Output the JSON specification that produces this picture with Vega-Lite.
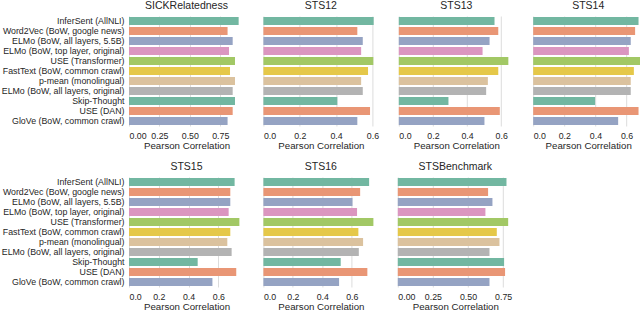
{
  "$schema": "https://vega.github.io/schema/vega-lite/v6.json",
  "background": "white",
  "padding": {"left": 1, "top": 0, "right": 0, "bottom": 0},
  "config": {
    "font": "Liberation Sans",
    "view": {"stroke": null},
    "title": {"fontSize": 10.5, "fontWeight": "normal", "color": "#262626", "offset": 5},
    "axis": {"labelColor": "#262626", "titleColor": "#262626", "labelFontSize": 8.8, "titleFontSize": 9.7, "titleFontWeight": "normal"},
    "concat": {"spacing": 19.4}
  },
  "data": {"values": [
    {"task": "SICKRelatedness", "model": "InferSent (AllNLI)", "r": 0.901},
    {"task": "SICKRelatedness", "model": "Word2Vec (BoW, google news)", "r": 0.81},
    {"task": "SICKRelatedness", "model": "ELMo (BoW, all layers, 5.5B)", "r": 0.852},
    {"task": "SICKRelatedness", "model": "ELMo (BoW, top layer, original)", "r": 0.822},
    {"task": "SICKRelatedness", "model": "USE (Transformer)", "r": 0.871},
    {"task": "SICKRelatedness", "model": "FastText (BoW, common crawl)", "r": 0.83},
    {"task": "SICKRelatedness", "model": "p-mean (monolingual)", "r": 0.871},
    {"task": "SICKRelatedness", "model": "ELMo (BoW, all layers, original)", "r": 0.852},
    {"task": "SICKRelatedness", "model": "Skip-Thought", "r": 0.871},
    {"task": "SICKRelatedness", "model": "USE (DAN)", "r": 0.852},
    {"task": "SICKRelatedness", "model": "GloVe (BoW, common crawl)", "r": 0.81},

    {"task": "STS12", "model": "InferSent (AllNLI)", "r": 0.607},
    {"task": "STS12", "model": "Word2Vec (BoW, google news)", "r": 0.517},
    {"task": "STS12", "model": "ELMo (BoW, all layers, 5.5B)", "r": 0.547},
    {"task": "STS12", "model": "ELMo (BoW, top layer, original)", "r": 0.538},
    {"task": "STS12", "model": "USE (Transformer)", "r": 0.605},
    {"task": "STS12", "model": "FastText (BoW, common crawl)", "r": 0.576},
    {"task": "STS12", "model": "p-mean (monolingual)", "r": 0.538},
    {"task": "STS12", "model": "ELMo (BoW, all layers, original)", "r": 0.547},
    {"task": "STS12", "model": "Skip-Thought", "r": 0.407},
    {"task": "STS12", "model": "USE (DAN)", "r": 0.587},
    {"task": "STS12", "model": "GloVe (BoW, common crawl)", "r": 0.517},

    {"task": "STS13", "model": "InferSent (AllNLI)", "r": 0.561},
    {"task": "STS13", "model": "Word2Vec (BoW, google news)", "r": 0.583},
    {"task": "STS13", "model": "ELMo (BoW, all layers, 5.5B)", "r": 0.532},
    {"task": "STS13", "model": "ELMo (BoW, top layer, original)", "r": 0.491},
    {"task": "STS13", "model": "USE (Transformer)", "r": 0.642},
    {"task": "STS13", "model": "FastText (BoW, common crawl)", "r": 0.583},
    {"task": "STS13", "model": "p-mean (monolingual)", "r": 0.522},
    {"task": "STS13", "model": "ELMo (BoW, all layers, original)", "r": 0.512},
    {"task": "STS13", "model": "Skip-Thought", "r": 0.291},
    {"task": "STS13", "model": "USE (DAN)", "r": 0.592},
    {"task": "STS13", "model": "GloVe (BoW, common crawl)", "r": 0.502},

    {"task": "STS14", "model": "InferSent (AllNLI)", "r": 0.677},
    {"task": "STS14", "model": "Word2Vec (BoW, google news)", "r": 0.655},
    {"task": "STS14", "model": "ELMo (BoW, all layers, 5.5B)", "r": 0.627},
    {"task": "STS14", "model": "ELMo (BoW, top layer, original)", "r": 0.615},
    {"task": "STS14", "model": "USE (Transformer)", "r": 0.706},
    {"task": "STS14", "model": "FastText (BoW, common crawl)", "r": 0.647},
    {"task": "STS14", "model": "p-mean (monolingual)", "r": 0.627},
    {"task": "STS14", "model": "ELMo (BoW, all layers, original)", "r": 0.627},
    {"task": "STS14", "model": "Skip-Thought", "r": 0.398},
    {"task": "STS14", "model": "USE (DAN)", "r": 0.677},
    {"task": "STS14", "model": "GloVe (BoW, common crawl)", "r": 0.546},

    {"task": "STS15", "model": "InferSent (AllNLI)", "r": 0.709},
    {"task": "STS15", "model": "Word2Vec (BoW, google news)", "r": 0.68},
    {"task": "STS15", "model": "ELMo (BoW, all layers, 5.5B)", "r": 0.68},
    {"task": "STS15", "model": "ELMo (BoW, top layer, original)", "r": 0.669},
    {"task": "STS15", "model": "USE (Transformer)", "r": 0.741},
    {"task": "STS15", "model": "FastText (BoW, common crawl)", "r": 0.68},
    {"task": "STS15", "model": "p-mean (monolingual)", "r": 0.66},
    {"task": "STS15", "model": "ELMo (BoW, all layers, original)", "r": 0.689},
    {"task": "STS15", "model": "Skip-Thought", "r": 0.461},
    {"task": "STS15", "model": "USE (DAN)", "r": 0.72},
    {"task": "STS15", "model": "GloVe (BoW, common crawl)", "r": 0.56},

    {"task": "STS16", "model": "InferSent (AllNLI)", "r": 0.718},
    {"task": "STS16", "model": "Word2Vec (BoW, google news)", "r": 0.657},
    {"task": "STS16", "model": "ELMo (BoW, all layers, 5.5B)", "r": 0.605},
    {"task": "STS16", "model": "ELMo (BoW, top layer, original)", "r": 0.636},
    {"task": "STS16", "model": "USE (Transformer)", "r": 0.747},
    {"task": "STS16", "model": "FastText (BoW, common crawl)", "r": 0.645},
    {"task": "STS16", "model": "p-mean (monolingual)", "r": 0.677},
    {"task": "STS16", "model": "ELMo (BoW, all layers, original)", "r": 0.648},
    {"task": "STS16", "model": "Skip-Thought", "r": 0.525},
    {"task": "STS16", "model": "USE (DAN)", "r": 0.706},
    {"task": "STS16", "model": "GloVe (BoW, common crawl)", "r": 0.514},

    {"task": "STSBenchmark", "model": "InferSent (AllNLI)", "r": 0.774},
    {"task": "STSBenchmark", "model": "Word2Vec (BoW, google news)", "r": 0.643},
    {"task": "STSBenchmark", "model": "ELMo (BoW, all layers, 5.5B)", "r": 0.674},
    {"task": "STSBenchmark", "model": "ELMo (BoW, top layer, original)", "r": 0.624},
    {"task": "STSBenchmark", "model": "USE (Transformer)", "r": 0.786},
    {"task": "STSBenchmark", "model": "FastText (BoW, common crawl)", "r": 0.705},
    {"task": "STSBenchmark", "model": "p-mean (monolingual)", "r": 0.724},
    {"task": "STSBenchmark", "model": "ELMo (BoW, all layers, original)", "r": 0.653},
    {"task": "STSBenchmark", "model": "Skip-Thought", "r": 0.757},
    {"task": "STSBenchmark", "model": "USE (DAN)", "r": 0.764},
    {"task": "STSBenchmark", "model": "GloVe (BoW, common crawl)", "r": 0.653}
  ]},
  "resolve": {"scale": {"x": "independent", "y": "independent"}},
  "spacing": 10,
  "vconcat": [
    {
      "resolve": {"scale": {"x": "independent", "y": "independent"}},
      "hconcat": [
        {
          "title": "SICKRelatedness", "width": 115, "height": 110,
          "transform": [{"filter": "datum.task === 'SICKRelatedness'"}],
          "mark": {"type": "bar"},
          "encoding": {
            "y": {"field": "model", "type": "nominal", "sort": ["InferSent (AllNLI)", "Word2Vec (BoW, google news)", "ELMo (BoW, all layers, 5.5B)", "ELMo (BoW, top layer, original)", "USE (Transformer)", "FastText (BoW, common crawl)", "p-mean (monolingual)", "ELMo (BoW, all layers, original)", "Skip-Thought", "USE (DAN)", "GloVe (BoW, common crawl)"], "scale": {"paddingInner": 0.2, "paddingOuter": 0.1}, "axis": {"title": null, "domain": false, "ticks": false, "labelPadding": 5, "labelLimit": 200}},
            "x": {"field": "r", "type": "quantitative", "scale": {"domain": [0, 0.945], "nice": false}, "axis": {"title": "Pearson Correlation", "values": [0, 0.25, 0.5, 0.75], "format": ".2f", "domain": false, "ticks": false, "labelPadding": 5, "titlePadding": 1, "gridColor": "#dcdcdc"}},
            "color": {"field": "model", "type": "nominal", "legend": null, "scale": {"domain": ["InferSent (AllNLI)", "Word2Vec (BoW, google news)", "ELMo (BoW, all layers, 5.5B)", "ELMo (BoW, top layer, original)", "USE (Transformer)", "FastText (BoW, common crawl)", "p-mean (monolingual)", "ELMo (BoW, all layers, original)", "Skip-Thought", "USE (DAN)", "GloVe (BoW, common crawl)"], "range": ["#72b7a1", "#e99675", "#95a3c3", "#db96c0", "#a2c865", "#e5c849", "#dbc29e", "#b3b3b3", "#72b7a1", "#e99675", "#95a3c3"]}}
          }
        },
        {
          "title": "STS12", "width": 115, "height": 110,
          "transform": [{"filter": "datum.task === 'STS12'"}],
          "mark": {"type": "bar"},
          "encoding": {
            "y": {"field": "model", "type": "nominal", "sort": ["InferSent (AllNLI)", "Word2Vec (BoW, google news)", "ELMo (BoW, all layers, 5.5B)", "ELMo (BoW, top layer, original)", "USE (Transformer)", "FastText (BoW, common crawl)", "p-mean (monolingual)", "ELMo (BoW, all layers, original)", "Skip-Thought", "USE (DAN)", "GloVe (BoW, common crawl)"], "scale": {"paddingInner": 0.2, "paddingOuter": 0.1}, "axis": null},
            "x": {"field": "r", "type": "quantitative", "scale": {"domain": [0, 0.633], "nice": false}, "axis": {"title": "Pearson Correlation", "values": [0, 0.2, 0.4, 0.6], "format": ".1f", "domain": false, "ticks": false, "labelPadding": 5, "titlePadding": 1, "gridColor": "#dcdcdc"}},
            "color": {"field": "model", "type": "nominal", "legend": null}
          }
        },
        {
          "title": "STS13", "width": 115, "height": 110,
          "transform": [{"filter": "datum.task === 'STS13'"}],
          "mark": {"type": "bar"},
          "encoding": {
            "y": {"field": "model", "type": "nominal", "sort": ["InferSent (AllNLI)", "Word2Vec (BoW, google news)", "ELMo (BoW, all layers, 5.5B)", "ELMo (BoW, top layer, original)", "USE (Transformer)", "FastText (BoW, common crawl)", "p-mean (monolingual)", "ELMo (BoW, all layers, original)", "Skip-Thought", "USE (DAN)", "GloVe (BoW, common crawl)"], "scale": {"paddingInner": 0.2, "paddingOuter": 0.1}, "axis": null},
            "x": {"field": "r", "type": "quantitative", "scale": {"domain": [0, 0.674], "nice": false}, "axis": {"title": "Pearson Correlation", "values": [0, 0.2, 0.4, 0.6], "format": ".1f", "domain": false, "ticks": false, "labelPadding": 5, "titlePadding": 1, "gridColor": "#dcdcdc"}},
            "color": {"field": "model", "type": "nominal", "legend": null}
          }
        },
        {
          "title": "STS14", "width": 110, "height": 110,
          "transform": [{"filter": "datum.task === 'STS14'"}],
          "mark": {"type": "bar"},
          "encoding": {
            "y": {"field": "model", "type": "nominal", "sort": ["InferSent (AllNLI)", "Word2Vec (BoW, google news)", "ELMo (BoW, all layers, 5.5B)", "ELMo (BoW, top layer, original)", "USE (Transformer)", "FastText (BoW, common crawl)", "p-mean (monolingual)", "ELMo (BoW, all layers, original)", "Skip-Thought", "USE (DAN)", "GloVe (BoW, common crawl)"], "scale": {"paddingInner": 0.2, "paddingOuter": 0.1}, "axis": null},
            "x": {"field": "r", "type": "quantitative", "scale": {"domain": [0, 0.707], "nice": false}, "axis": {"title": "Pearson Correlation", "values": [0, 0.2, 0.4, 0.6], "format": ".1f", "domain": false, "ticks": false, "labelPadding": 5, "titlePadding": 1, "gridColor": "#dcdcdc"}},
            "color": {"field": "model", "type": "nominal", "legend": null}
          }
        }
      ]
    },
    {
      "resolve": {"scale": {"x": "independent", "y": "independent"}},
      "hconcat": [
        {
          "title": "STS15", "width": 115, "height": 110,
          "transform": [{"filter": "datum.task === 'STS15'"}],
          "mark": {"type": "bar"},
          "encoding": {
            "y": {"field": "model", "type": "nominal", "sort": ["InferSent (AllNLI)", "Word2Vec (BoW, google news)", "ELMo (BoW, all layers, 5.5B)", "ELMo (BoW, top layer, original)", "USE (Transformer)", "FastText (BoW, common crawl)", "p-mean (monolingual)", "ELMo (BoW, all layers, original)", "Skip-Thought", "USE (DAN)", "GloVe (BoW, common crawl)"], "scale": {"paddingInner": 0.2, "paddingOuter": 0.1}, "axis": {"title": null, "domain": false, "ticks": false, "labelPadding": 5, "labelLimit": 200}},
            "x": {"field": "r", "type": "quantitative", "scale": {"domain": [0, 0.772], "nice": false}, "axis": {"title": "Pearson Correlation", "values": [0, 0.2, 0.4, 0.6], "format": ".1f", "domain": false, "ticks": false, "labelPadding": 5, "titlePadding": 1, "gridColor": "#dcdcdc"}},
            "color": {"field": "model", "type": "nominal", "legend": null}
          }
        },
        {
          "title": "STS16", "width": 115, "height": 110,
          "transform": [{"filter": "datum.task === 'STS16'"}],
          "mark": {"type": "bar"},
          "encoding": {
            "y": {"field": "model", "type": "nominal", "sort": ["InferSent (AllNLI)", "Word2Vec (BoW, google news)", "ELMo (BoW, all layers, 5.5B)", "ELMo (BoW, top layer, original)", "USE (Transformer)", "FastText (BoW, common crawl)", "p-mean (monolingual)", "ELMo (BoW, all layers, original)", "Skip-Thought", "USE (DAN)", "GloVe (BoW, common crawl)"], "scale": {"paddingInner": 0.2, "paddingOuter": 0.1}, "axis": null},
            "x": {"field": "r", "type": "quantitative", "scale": {"domain": [0, 0.781], "nice": false}, "axis": {"title": "Pearson Correlation", "values": [0, 0.2, 0.4, 0.6], "format": ".1f", "domain": false, "ticks": false, "labelPadding": 5, "titlePadding": 1, "gridColor": "#dcdcdc"}},
            "color": {"field": "model", "type": "nominal", "legend": null}
          }
        },
        {
          "title": "STSBenchmark", "width": 115, "height": 110,
          "transform": [{"filter": "datum.task === 'STSBenchmark'"}],
          "mark": {"type": "bar"},
          "encoding": {
            "y": {"field": "model", "type": "nominal", "sort": ["InferSent (AllNLI)", "Word2Vec (BoW, google news)", "ELMo (BoW, all layers, 5.5B)", "ELMo (BoW, top layer, original)", "USE (Transformer)", "FastText (BoW, common crawl)", "p-mean (monolingual)", "ELMo (BoW, all layers, original)", "Skip-Thought", "USE (DAN)", "GloVe (BoW, common crawl)"], "scale": {"paddingInner": 0.2, "paddingOuter": 0.1}, "axis": null},
            "x": {"field": "r", "type": "quantitative", "scale": {"domain": [0, 0.819], "nice": false}, "axis": {"title": "Pearson Correlation", "values": [0, 0.25, 0.5, 0.75], "format": ".2f", "domain": false, "ticks": false, "labelPadding": 5, "titlePadding": 1, "gridColor": "#dcdcdc"}},
            "color": {"field": "model", "type": "nominal", "legend": null}
          }
        }
      ]
    }
  ]
}
